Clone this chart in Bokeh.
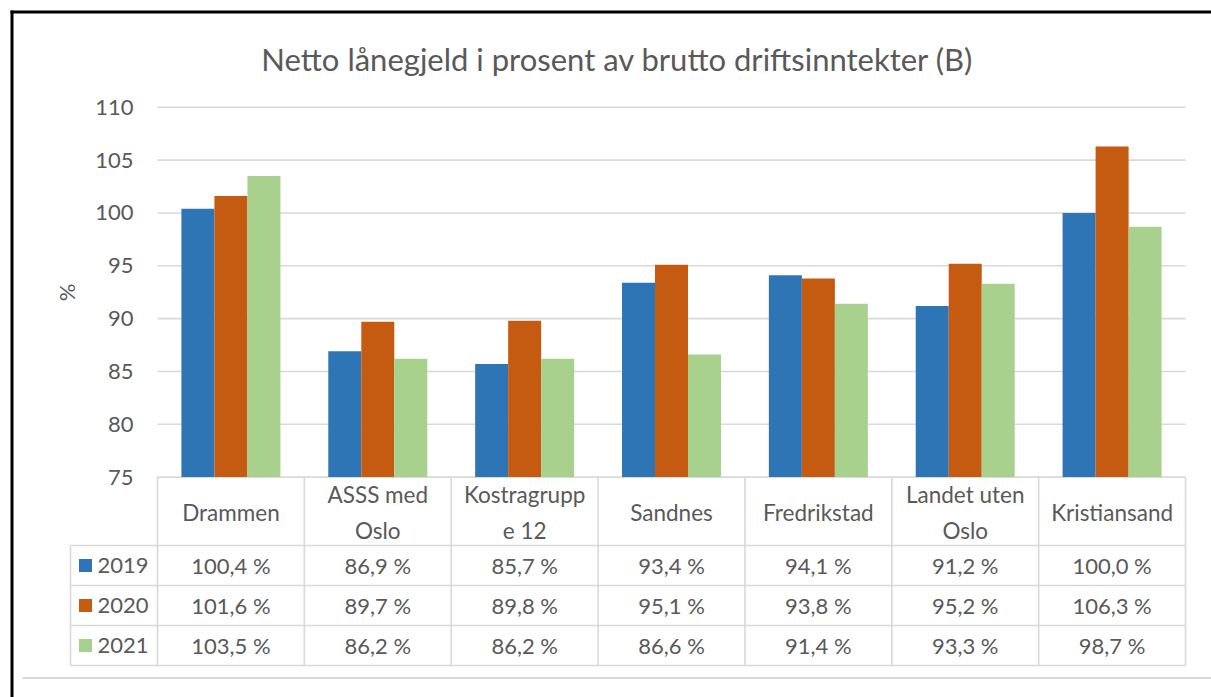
from bokeh.plotting import figure
from bokeh.models import Range1d, LinearAxis, FixedTicker
from bokeh.core.properties import value
from bokeh.embed import file_html
from bokeh.resources import INLINE

# ---------------- data ----------------
title_text = "Netto lånegjeld i prosent av brutto driftsinntekter (B)"
categories = ["Drammen", "ASSS med\nOslo", "Kostragrupp\ne 12", "Sandnes",
              "Fredrikstad", "Landet uten\nOslo", "Kristiansand"]
years = ["2019", "2020", "2021"]
v2019 = [100.4, 86.9, 85.7, 93.4, 94.1, 91.2, 100.0]
v2020 = [101.6, 89.7, 89.8, 95.1, 93.8, 95.2, 106.3]
v2021 = [103.5, 86.2, 86.2, 86.6, 91.4, 93.3, 98.7]
y_ticks = [75, 80, 85, 90, 95, 100, 105, 110]
y_label = "%"
colors = ["#2E75B6", "#C55A11", "#A9D18E"]

series = [v2019, v2020, v2021]

# ---------------- layout ----------------
W, H = 1211, 697
OFF = 0                      # page offset of the canvas
CAT_LEFT = 157.0             # page x of first category edge
CW = 146.86                  # px per category
Y75 = 476.6                  # page y of axis minimum
PPU = 52.83 / 5.0            # px per %-unit
n = len(categories)

FONT = value("Lato")
TXT = "#595959"
GRID = "#d9d9d9"

ymin, ymax = y_ticks[0], y_ticks[-1]
x_range = Range1d((OFF - CAT_LEFT) / CW, (OFF + W - CAT_LEFT) / CW)
y_range = Range1d(ymin - (OFF + H - Y75) / PPU, ymin + (Y75 - OFF) / PPU)

p = figure(width=W, height=H, x_range=x_range, y_range=y_range,
           x_axis_location=None, y_axis_location=None,
           toolbar_location=None, output_backend="svg",
           min_border=0, outline_line_color=None,
           background_fill_color="white", border_fill_color="white")
p.extra_x_ranges = {"px": Range1d(OFF, OFF + W)}
p.extra_y_ranges = {"px": Range1d(OFF + H, OFF)}
p.grid.visible = False

# frame of the picture (black left/top border, grey bottom rule)
p.segment(x0=[11.5, 10], y0=[10, 11.5], x1=[11.5, OFF + W], y1=[OFF + H, 11.5],
          line_color="black", line_width=3,
          x_range_name="px", y_range_name="px")
p.segment(x0=[22], y0=[677.5], x1=[OFF + W], y1=[677.5],
          line_color=GRID, line_width=2,
          x_range_name="px", y_range_name="px")

# title
p.text(x=[617], y=[58], text=[title_text],
       text_font=FONT, text_font_size="31px", text_color=TXT,
       text_align="center", text_baseline="middle",
       x_range_name="px", y_range_name="px")

# y axis drawn at the left edge of the category area
yax = LinearAxis(fixed_location=0, ticker=FixedTicker(ticks=y_ticks),
                 bounds=(ymin, ymax), axis_label=y_label,
                 axis_line_color=None, major_tick_line_color=None,
                 minor_tick_line_color=None, major_tick_out=0,
                 major_label_standoff=24,
                 major_label_text_font="Lato", major_label_text_font_size="22px",
                 major_label_text_color=TXT,
                 axis_label_text_font="Lato", axis_label_text_font_size="22px",
                 axis_label_text_font_style="normal", axis_label_text_color=TXT,
                 axis_label_standoff=12)
p.add_layout(yax, "left")

# horizontal gridlines
p.segment(x0=[0] * len(y_ticks), x1=[n] * len(y_ticks), y0=y_ticks, y1=y_ticks,
          line_color=GRID, line_width=1.6)

# bars
bw = 0.2247
for k, vals in enumerate(series):
    xs = [i + 0.5 + (k - 1) * bw for i in range(n)]
    p.vbar(x=xs, top=vals, bottom=ymin, width=bw,
           fill_color=colors[k], line_color=None)

# ---------------- data table ----------------
HDR_TOP, HDR_BOT, ROW_H = Y75, 545.0, 40.0
rows_bottom = HDR_BOT + ROW_H * len(years)
LEG_LEFT = 70.0
leg_left_u = (LEG_LEFT - CAT_LEFT) / CW

# vertical lines (category column edges)
p.segment(x0=list(range(n + 1)), x1=list(range(n + 1)),
          y0=[HDR_TOP] * (n + 1), y1=[rows_bottom] * (n + 1),
          line_color=GRID, line_width=1.6, y_range_name="px")
# legend column left edge
p.segment(x0=[leg_left_u], x1=[leg_left_u], y0=[HDR_BOT], y1=[rows_bottom],
          line_color=GRID, line_width=1.6, y_range_name="px")
# horizontal row lines
row_lines = [HDR_BOT + ROW_H * r for r in range(len(years) + 1)]
p.segment(x0=[leg_left_u] * len(row_lines), x1=[n] * len(row_lines),
          y0=row_lines, y1=row_lines,
          line_color=GRID, line_width=1.6, y_range_name="px")

# category headers
p.text(x=[i + 0.5 for i in range(n)], y=[(HDR_TOP + HDR_BOT) / 2 + 1] * n,
       text=categories, text_font=FONT, text_font_size="22.5px", text_color=TXT,
       text_align="center", text_baseline="middle", text_line_height=1.32,
       y_range_name="px")

# values
def fmt(v):
    return f"{v:.1f}".replace(".", ",") + " %"

for r, vals in enumerate(series):
    yc = HDR_BOT + ROW_H * r + ROW_H / 2
    p.text(x=[i + 0.5 for i in range(n)], y=[yc] * n,
           text=[fmt(v) for v in vals], text_font=FONT, text_font_size="22px",
           text_color=TXT, text_align="center", text_baseline="middle",
           y_range_name="px")
    # legend key
    p.scatter(x=[leg_left_u + 15 / CW], y=[yc], marker="square", size=13,
              fill_color=colors[r], line_color=None, y_range_name="px")
    p.text(x=[leg_left_u + 27 / CW], y=[yc], text=[years[r]], text_font=FONT,
           text_font_size="22px", text_color=TXT, text_align="left",
           text_baseline="middle", y_range_name="px")

open("out.html", "w").write(file_html(p, INLINE))
